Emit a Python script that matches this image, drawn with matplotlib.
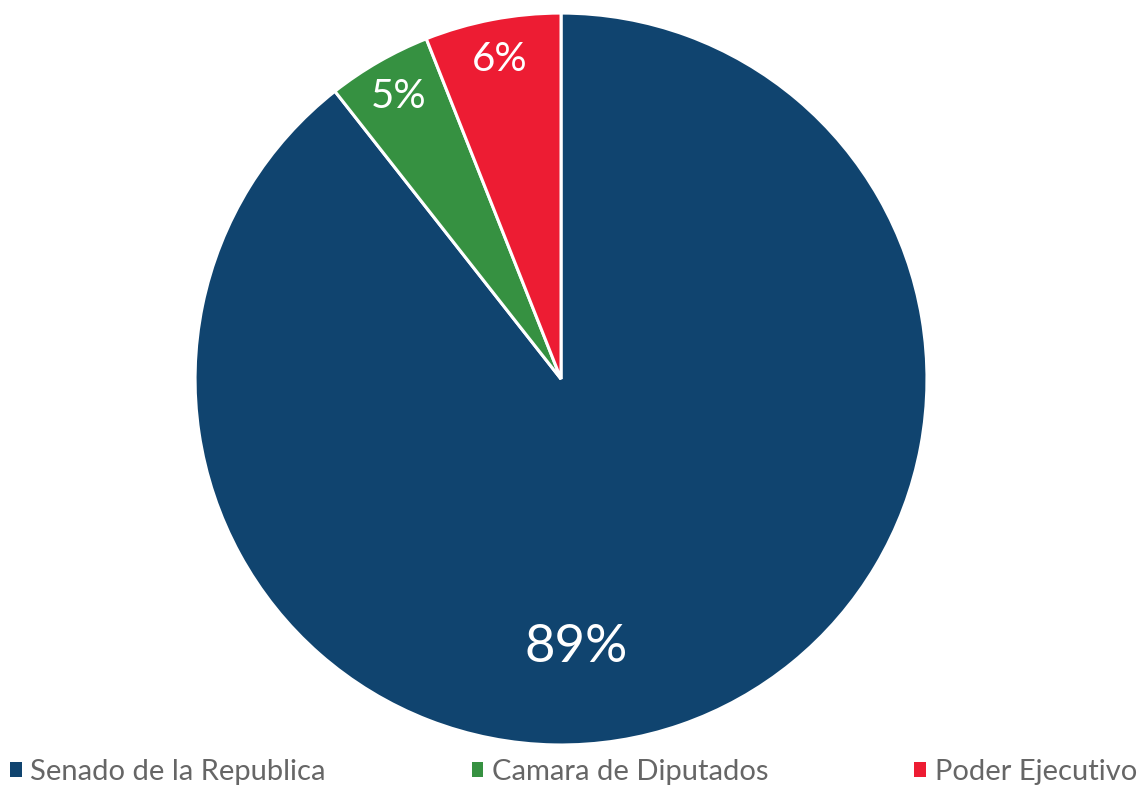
import matplotlib.pyplot as plt
from matplotlib.patches import Patch

# =========================
# DATA
# =========================

labels = ["Senado de la Republica", "Camara de Diputados", "Poder Ejecutivo"]
shares = [89.4, 4.6, 6.0]
colors = ["#10446f", "#369141", "#ed1c33"]

plt.rcParams["font.family"] = ["Lato", "DejaVu Sans"]

# =========================
# PIE
# =========================

fig = plt.figure(figsize=(11.46, 7.87), dpi=100)
ax = fig.add_axes([0.1702, 0.0534, 0.6387, 0.930])

wedges, texts, autotexts = ax.pie(
    shares,
    colors=colors,
    startangle=90,
    counterclock=False,
    autopct="%.0f%%",
    pctdistance=0.89,
    wedgeprops={"edgecolor": "white", "linewidth": 2.2},
    textprops={"color": "white", "fontsize": 29},
)

# big slice label sits lower, near the bottom
autotexts[0].set_position((0.041, -0.735))
autotexts[0].set_fontsize(38)

ax.set_xlim(-1, 1)
ax.set_ylim(-1, 1)
ax.set_aspect("equal")
ax.axis("off")

# =========================
# LEGEND
# =========================

handles = [Patch(facecolor=c, edgecolor="none") for c in colors]

fig.legend(
    handles,
    labels,
    loc="center left",
    bbox_to_anchor=(-0.004, 0.019),
    ncol=3,
    frameon=False,
    fontsize=21,
    labelcolor="#666666",
    handlelength=0.4,
    handleheight=0.4,
    handletextpad=0.3,
    columnspacing=5.0,
    borderpad=0,
)

fig.savefig("out.png", dpi=100)
